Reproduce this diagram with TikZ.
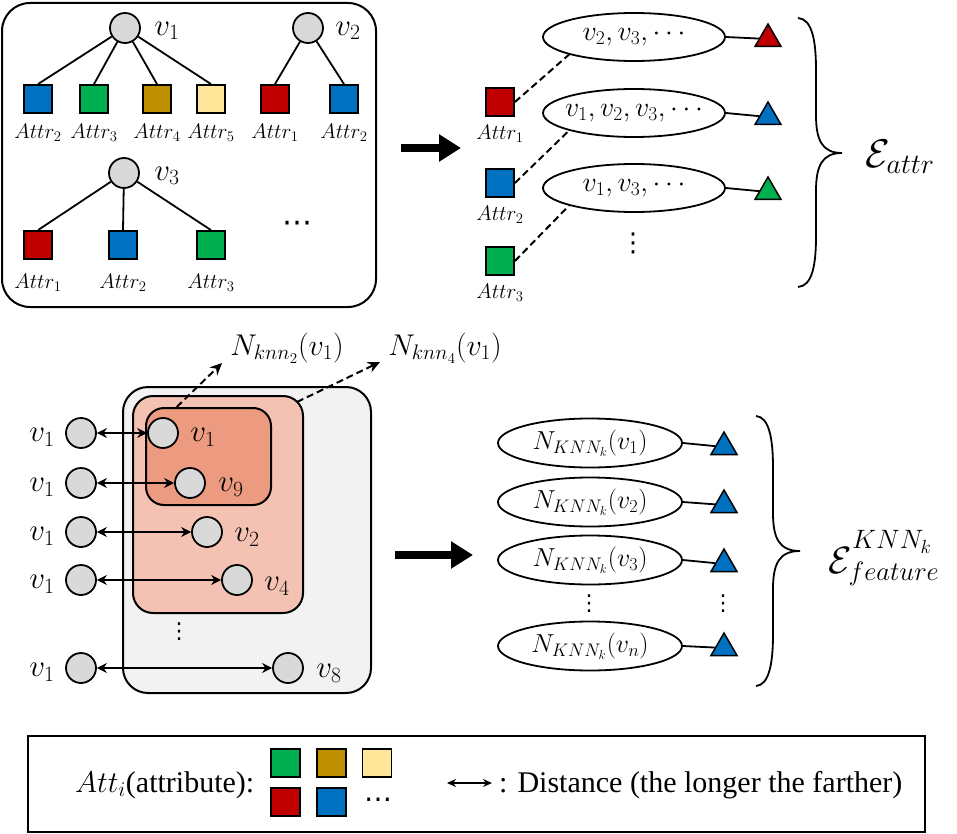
\RequirePackage{fix-cm}
\documentclass[tikz,border=0pt]{standalone}
\usepackage{fontspec}
\setmainfont{Liberation Serif}
\newfontfamily\djv{DejaVu Sans}
\usetikzlibrary{shapes.geometric,arrows.meta,calc}
\definecolor{cblue}{HTML}{0070C0}
\definecolor{cgreen}{HTML}{00B050}
\definecolor{cgold}{HTML}{BF9000}
\definecolor{cyellow}{HTML}{FFE699}
\definecolor{cred}{HTML}{C00000}
\definecolor{cgrey}{HTML}{D9D9D9}
\definecolor{cbox}{HTML}{F2F2F2}
\definecolor{csalmA}{HTML}{F4C2B2}
\definecolor{csalmB}{HTML}{EC9A80}
\newcommand{\zw}[1]{\makebox[0pt][c]{#1}}
\begin{document}
\begin{tikzpicture}[x=1pt,y=-1pt,
  vnode/.style={circle,draw,fill=cgrey,line width=1.8pt,minimum size=30pt,inner sep=0pt},
  sq/.style={rectangle,draw,line width=1.8pt,minimum width=28pt,minimum height=28pt,inner sep=0pt},
  lsq/.style={rectangle,draw,line width=1.8pt,minimum width=29pt,minimum height=28pt,inner sep=0pt},
  tri/.style={regular polygon,regular polygon sides=3,draw,line width=1.5pt,minimum size=30pt,inner sep=0pt},
  ell/.style={ellipse,draw,line width=1.8pt,minimum width=182pt,minimum height=48pt,inner sep=0pt,font=\fontsize{28}{32}\selectfont},
  ellb/.style={ellipse,draw,line width=1.8pt,minimum width=184pt,minimum height=49pt,inner sep=0pt,font=\fontsize{26}{30}\selectfont},
  lbl/.style={font=\fontsize{31}{36}\selectfont,inner sep=0pt},
  attr/.style={font=\fontsize{21}{24}\selectfont,inner sep=0pt},
  big/.style={font=\fontsize{39}{44}\selectfont,inner sep=0pt},
  dts/.style={font=\djv\fontsize{26}{30}\selectfont,inner sep=0pt},
  conn/.style={line width=1.8pt},
  dsh/.style={line width=2pt,dash pattern=on 7pt off 4pt},
  darr/.style={line width=2pt,{Stealth[length=10pt,width=10pt]}-{Stealth[length=10pt,width=10pt]}},
  dsharr/.style={line width=2pt,dash pattern=on 7pt off 4pt,-{Stealth[length=12pt,width=11pt]}},
  bigarrow/.style={line width=8pt,-{Triangle[length=22pt,width=26pt]}},
  roundbox/.style={draw,rectangle,line width=2pt,inner sep=0pt}
]
\useasboundingbox (0,0) rectangle (957,834);

% ---------------- top-left box ----------------
\node[roundbox,rounded corners=28pt,minimum width=374pt,minimum height=304pt] (tl) at (189,155) {};
\node[vnode] (a1) at (125,28) {};
\node[lbl] (a1l) at (167,31) {$v_1$};
\node[vnode] (a2) at (308,28) {};
\node[lbl] (a2l) at (348,31) {$v_2$};
\node[sq,fill=cblue] (s11) at (38,99) {};
\node[sq,fill=cgreen] (s12) at (94,99) {};
\node[sq,fill=cgold] (s13) at (157,99) {};
\node[sq,fill=cyellow] (s14) at (211,99) {};
\node[sq,fill=cred] (s15) at (275,99) {};
\node[sq,fill=cblue] (s16) at (344,99) {};
\node[attr] (t11) at (38,133) {$Attr_2$};
\node[attr] (t12) at (94,133) {$Attr_3$};
\node[attr] (t13) at (157,133) {$Attr_4$};
\node[attr] (t14) at (211,133) {$Attr_5$};
\node[attr] (t15) at (275,133) {$Attr_1$};
\node[attr] (t16) at (344,133) {$Attr_2$};
\draw[conn] (a1) -- (s11.north);
\draw[conn] (a1) -- (s12.north);
\draw[conn] (a1) -- (s13.north);
\draw[conn] (a1) -- (s14.north);
\draw[conn] (a2) -- (s15.north);
\draw[conn] (a2) -- (s16.north);
\node[vnode] (a3) at (124,173) {};
\node[lbl] (a3l) at (167,176) {$v_3$};
\node[sq,fill=cred] (s21) at (38,245) {};
\node[sq,fill=cblue] (s22) at (123,245) {};
\node[sq,fill=cgreen] (s23) at (211,245) {};
\node[attr] (t21) at (38,283) {$Attr_1$};
\node[attr] (t22) at (123,283) {$Attr_2$};
\node[attr] (t23) at (211,283) {$Attr_3$};
\draw[conn] (a3) -- (s21.north);
\draw[conn] (a3) -- (s22.north);
\draw[conn] (a3) -- (s23.north);
\node[dts,font=\djv\fontsize{30}{34}\selectfont] (tldots) at (297,227) {⋯};

% top arrow
\coordinate (ta1) at (401,148);
\coordinate (ta2) at (461,148);
\draw[bigarrow] (ta1) -- (ta2);

% ---------------- top-right ----------------
\node[sq,fill=cred] (r1) at (500,102) {};
\node[sq,fill=cblue] (r2) at (500,183) {};
\node[sq,fill=cgreen] (r3) at (500,261) {};
\node[attr] (rl1) at (500,134) {$Attr_1$};
\node[attr] (rl2) at (500,215) {$Attr_2$};
\node[attr] (rl3) at (500,293) {$Attr_3$};
\node[ell] (e1) at (634,37) {\zw{$v_2, v_3, \cdots$}};
\node[ell] (e2) at (634,113) {\zw{$v_1, v_2, v_3, \cdots$}};
\node[ell] (e3) at (634,188) {\zw{$v_1, v_3, \cdots$}};
\node[tri,fill=cred] (t1) at (768,39) {};
\node[tri,fill=cblue] (t2) at (768,117) {};
\node[tri,fill=cgreen] (t3) at (768,192) {};
\draw[conn] (e1.east) -- (t1);
\draw[conn] (e2.east) -- (t2);
\draw[conn] (e3.east) -- (t3);
\draw[dsh] (r1.east) -- (e1.south west);
\draw[dsh] (r2.east) -- (e2.south west);
\draw[dsh] (r3.east) -- (e3.south west);
\node[dts] (trdots) at (633,243) {⋮};
\draw[line width=1.8pt] (798,18) .. controls (812,19) and (816,40) .. (816,70)
  -- (816,115) .. controls (816,140) and (822,153) .. (842,153)
  .. controls (822,153) and (816,166) .. (816,191)
  -- (816,236) .. controls (816,266) and (812,286) .. (798,287);
\node[big,font=\fontsize{40}{46}\selectfont] (eattr) at (900,157) {$\mathcal{E}_{attr}$};

% ---------------- bottom-left ----------------
\node[roundbox,fill=cbox,rounded corners=25pt,minimum width=248pt,minimum height=306pt] (gbox) at (247,540) {};
\node[roundbox,fill=csalmA,rounded corners=20pt,minimum width=170pt,minimum height=217pt] (mbox) at (218,504.5) {};
\node[roundbox,fill=csalmB,rounded corners=18pt,minimum width=125pt,minimum height=97pt] (ibox) at (208.5,456.5) {};

\node[vnode] (l1) at (81,433) {};
\node[vnode] (l2) at (81,483) {};
\node[vnode] (l3) at (81,532) {};
\node[vnode] (l4) at (81,580) {};
\node[vnode] (l5) at (81,668) {};
\node[lbl] (ll1) at (42,437) {$v_1$};
\node[lbl] (ll2) at (42,487) {$v_1$};
\node[lbl] (ll3) at (42,536) {$v_1$};
\node[lbl] (ll4) at (42,584) {$v_1$};
\node[lbl] (ll5) at (42,672) {$v_1$};

\node[vnode] (rc1) at (163,433) {};
\node[vnode] (rc9) at (190,483) {};
\node[vnode] (rc2) at (207,532) {};
\node[vnode] (rc4) at (237,580) {};
\node[vnode] (rc8) at (288,668) {};
\node[lbl] (rl1b) at (203,437) {$v_1$};
\node[lbl] (rl9b) at (231,487) {$v_9$};
\node[lbl] (rl2b) at (247,537) {$v_2$};
\node[lbl] (rl4b) at (277,586) {$v_4$};
\node[lbl] (rl8b) at (329,673) {$v_8$};

\draw[darr] (l1) -- (rc1);
\draw[darr] (l2) -- (rc9);
\draw[darr] (l3) -- (rc2);
\draw[darr] (l4) -- (rc4);
\draw[darr] (l5) -- (rc8);
\node[dts,font=\djv\fontsize{22}{26}\selectfont] (bldots) at (179,632) {⋮};

\coordinate (k2s) at ($(ibox.north west)!0.25!(ibox.north east)$);
\coordinate (k2e) at (222,363);
\coordinate (k4s) at (297,402);
\coordinate (k4e) at (380,362);
\draw[dsharr] (k2s) -- (k2e);
\draw[dsharr] (k4s) -- (k4e);
\node[lbl,font=\fontsize{30}{34}\selectfont] (nk2) at (287,348) {$N_{knn_2}(v_1)$};
\node[lbl,font=\fontsize{30}{34}\selectfont] (nk4) at (445,348) {$N_{knn_4}(v_1)$};

% bottom arrow
\coordinate (ba1) at (395,555);
\coordinate (ba2) at (473,555);
\draw[bigarrow] (ba1) -- (ba2);

% ---------------- bottom-right ----------------
\node[ellb] (f1) at (590,443) {\zw{$N_{KNN_k}(v_1)$}};
\node[ellb] (f2) at (590,502) {\zw{$N_{KNN_k}(v_2)$}};
\node[ellb] (f3) at (590,560) {\zw{$N_{KNN_k}(v_3)$}};
\node[ellb] (fn) at (590,646) {\zw{$N_{KNN_k}(v_n)$}};
\node[tri,fill=cblue] (g1) at (724,447) {};
\node[tri,fill=cblue] (g2) at (724,505) {};
\node[tri,fill=cblue] (g3) at (724,564) {};
\node[tri,fill=cblue] (gn) at (724,648) {};
\draw[conn] (f1.east) -- (g1);
\draw[conn] (f2.east) -- (g2);
\draw[conn] (f3.east) -- (g3);
\draw[conn] (fn.east) -- (gn);
\node[dts,font=\djv\fontsize{22}{26}\selectfont] (brdots1) at (589,604) {⋮};
\node[dts,font=\djv\fontsize{22}{26}\selectfont] (brdots2) at (723,604) {⋮};
\draw[line width=1.8pt] (756,416) .. controls (769,417) and (773,438) .. (773,468)
  -- (773,513) .. controls (773,538) and (779,551) .. (800,551)
  .. controls (779,551) and (773,564) .. (773,589)
  -- (773,634) .. controls (773,664) and (769,685) .. (756,686);
\node[big,font=\fontsize{38}{44}\selectfont] (efeat) at (884,558) {$\mathcal{E}^{KNN_k\rule[-11pt]{0pt}{0pt}}_{feature}$};

% ---------------- legend ----------------
\node[draw,rectangle,line width=1.6pt,minimum width=897pt,minimum height=96pt,inner sep=0pt] (leg) at (476.5,784) {};
\node[anchor=west,inner sep=0pt,font=\fontsize{30}{34}\selectfont] (legt) at (75,785) {$Att_i$(attribute):};
\node[lsq,fill=cgreen] (lg1) at (285.5,763) {};
\node[lsq,fill=cgold] (lg2) at (331.5,763) {};
\node[lsq,fill=cyellow] (lg3) at (377,763) {};
\node[lsq,fill=cred] (lg4) at (285.5,802) {};
\node[lsq,fill=cblue] (lg5) at (331.5,802) {};
\node[dts,font=\djv\fontsize{28}{32}\selectfont] (lgdots) at (378,803) {⋯};
\coordinate (la1) at (447,783);
\coordinate (la2) at (492,783);
\draw[line width=1.6pt,{Stealth[length=9pt,width=8pt]}-{Stealth[length=9pt,width=8pt]}] (la1) -- (la2);
\node[anchor=west,inner sep=0pt,font=\fontsize{30}{34}\selectfont] (legd) at (499,785) {: Distance (the longer the farther)};
\end{tikzpicture}
\end{document}
